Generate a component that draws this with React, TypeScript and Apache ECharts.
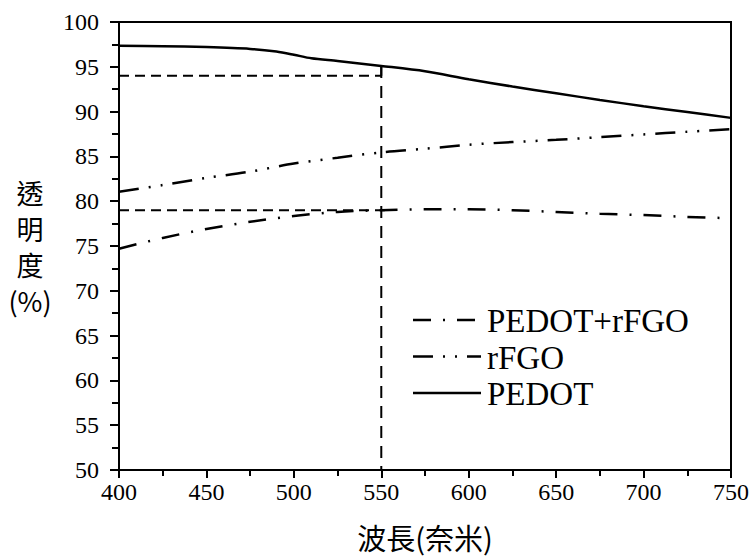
import React, { useEffect, useRef } from "react";
import * as echarts from "echarts";

const wavelengths = [400, 425, 450, 475, 500, 525, 550, 575, 600, 625, 650, 675, 700, 725, 750];
const pedotWl = [400, 425, 450, 475, 490, 500, 510, 525, 550, 575, 600, 625, 650, 675, 700, 725, 750];
const pedot = [97.35, 97.3, 97.2, 97.0, 96.7, 96.35, 95.95, 95.65, 95.1, 94.5, 93.6, 92.8, 92.05, 91.3, 90.6, 89.95, 89.3];
const rfgo = [81.05, 81.8, 82.6, 83.3, 84.2, 84.85, 85.45, 85.85, 86.3, 86.6, 86.85, 87.15, 87.45, 87.75, 88.05];
const pedotRfgo = [74.7, 75.9, 76.9, 77.7, 78.35, 78.8, 79.0, 79.1, 79.1, 79.0, 78.8, 78.6, 78.45, 78.25, 78.1];
const refH94 = [[400, 94], [550, 94]];
const refStub = [[550, 94], [550, 95.1]];
const refV550 = [[550, 95.1], [550, 50]];
const refH79 = [[400, 79], [552, 79]];
const seriesNames = ["PEDOT+rFGO", "rFGO", "PEDOT"];
const xTitle = "波長(奈米)";
const yTitle = "透\n明\n度\n(%)";

const serif = "Liberation Serif";
const cjk = "Noto Sans CJK TC";

const dashes: any[] = [[18, 12, 2, 12], [20, 10, 2, 10, 2, 10], null];

export default function App() {
  const ref = useRef<HTMLDivElement>(null);
  useEffect(() => {
    if (!ref.current) return;
    const chart = echarts.init(ref.current, undefined, { renderer: "svg" });
    const zip = (xs: number[], ys: number[]) => xs.map((x, i) => [x, ys[i]]);
    const refLine = (name: string, data: number[][], type: any) => ({
      name,
      type: "line",
      data,
      symbol: "none",
      silent: true,
      lineStyle: { color: "#000", width: 2, type },
      z: 1,
    });
    const legendItems: any[] = [];
    seriesNames.forEach((n, i) => {
      const y = 320 + 36.5 * i;
      legendItems.push({
        type: "line",
        shape: { x1: 413, y1: y, x2: 481, y2: y },
        style: { stroke: "#000", lineWidth: 2.5, lineDash: dashes[i] || undefined },
      });
      legendItems.push({
        type: "text",
        x: 487,
        y: y + 1,
        style: {
          text: n,
          fontFamily: serif,
          fontSize: 33,
          fill: "#000",
          textAlign: "left",
          textVerticalAlign: "middle",
        },
      });
    });
    chart.setOption({
      animation: false,
      backgroundColor: "#fff",
      grid: {
        left: 119,
        right: 24,
        top: 22,
        bottom: 89,
        show: true,
        borderColor: "#000",
        borderWidth: 2,
      },
      xAxis: {
        type: "value",
        min: 400,
        max: 750,
        interval: 50,
        name: xTitle,
        nameLocation: "middle",
        nameGap: 52,
        nameTextStyle: { fontFamily: cjk, fontSize: 29, color: "#000" },
        axisLine: { show: true, onZero: false, lineStyle: { color: "#000", width: 2 } },
        axisTick: { show: true, inside: false, length: 8, lineStyle: { color: "#000", width: 2 } },
        minorTick: { show: true, splitNumber: 2, length: 6, lineStyle: { color: "#000", width: 2 } },
        axisLabel: { fontFamily: serif, fontSize: 24, color: "#000", margin: 10 },
        splitLine: { show: false },
      },
      yAxis: {
        type: "value",
        min: 50,
        max: 100,
        interval: 5,
        axisLine: { show: true, onZero: false, lineStyle: { color: "#000", width: 2 } },
        axisTick: { show: true, inside: false, length: 9, lineStyle: { color: "#000", width: 2 } },
        minorTick: { show: true, splitNumber: 2, length: 7, lineStyle: { color: "#000", width: 2 } },
        axisLabel: { fontFamily: serif, fontSize: 24, color: "#000", margin: 20 },
        splitLine: { show: false },
      },
      graphic: [
        {
          type: "text",
          x: 30,
          y: 246,
          style: {
            text: yTitle,
            fontFamily: cjk,
            fontSize: 27,
            fill: "#000",
            textAlign: "center",
            textVerticalAlign: "middle",
            lineHeight: 36,
          },
        },
        ...legendItems,
      ],
      series: [
        {
          name: seriesNames[0],
          type: "line",
          data: zip(wavelengths, pedotRfgo),
          symbol: "none",
          smooth: 0.3,
          lineStyle: { color: "#000", width: 2.5, type: dashes[0] },
          z: 3,
        },
        {
          name: seriesNames[1],
          type: "line",
          data: zip(wavelengths, rfgo),
          symbol: "none",
          smooth: 0.3,
          lineStyle: { color: "#000", width: 2.5, type: dashes[1] },
          z: 3,
        },
        {
          name: seriesNames[2],
          type: "line",
          data: zip(pedotWl, pedot),
          symbol: "none",
          smooth: 0.3,
          lineStyle: { color: "#000", width: 2.5, type: "solid" },
          z: 3,
        },
        refLine("ref94", refH94, [10, 6]),
        refLine("refStub", refStub, "solid"),
        refLine("ref550", refV550, [12, 8]),
        refLine("ref79", refH79, [10, 6]),
      ],
    });
    return () => chart.dispose();
  }, []);
  return <div ref={ref} style={{ width: 755, height: 559, position: "absolute", left: 0, top: 0 }} />;
}
